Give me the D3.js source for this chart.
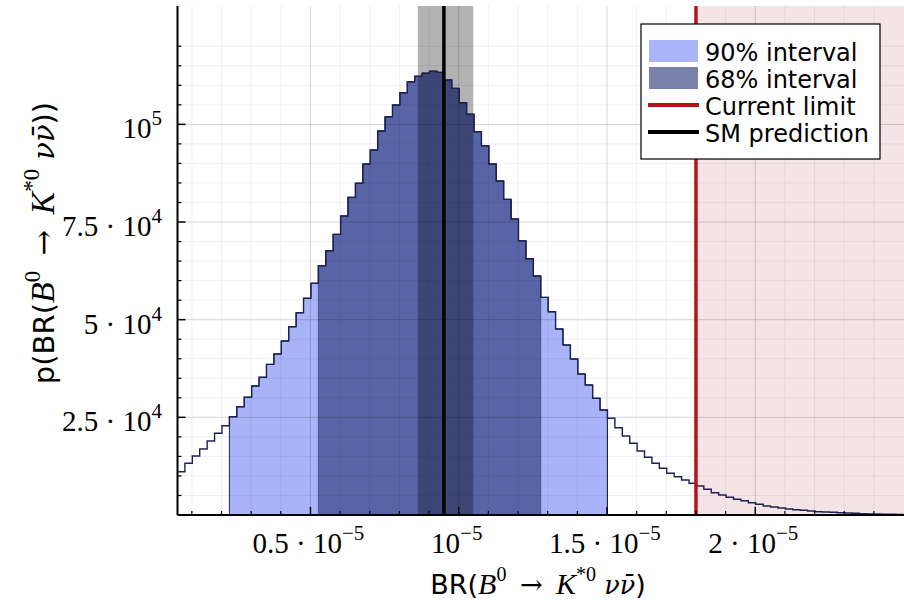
<!DOCTYPE html>
<html>
<head>
<meta charset="utf-8">
<script src="https://cdn.jsdelivr.net/npm/d3@7"></script>
<style>
  body { margin: 0; background: #fff; }
  svg { display: block; }
</style>
</head>
<body>
<div id="chart"></div>
<script>
// histogram of BR(B0 -> K*0 nu nubar), x values in units of 1e-5
const binStart = 0.0516
const binWidth = 0.025
const counts = [
  11080, 13230, 15100, 16890, 18940, 20910, 22860, 25160, 27720, 30130,
  33020, 35250, 38570, 41210, 44540, 48200, 51780, 55470, 59310, 63810,
  67650, 71850, 76540, 81320, 84910, 89850, 93430, 98290, 101950, 104950,
  108100, 110910, 112300, 113100, 113600, 113320, 111350, 109220, 105540, 102570,
  98110, 94530, 89850, 85490, 80810, 75770, 70210, 65600, 61180, 55720,
  52040, 47610, 43520, 39930, 36090, 33280, 29870, 26880, 24750, 22350,
  20220, 18350, 16380, 14770, 13230, 11950, 10670, 9800, 8960, 8110,
  7420, 6580, 5710, 5120, 4530, 4020, 3660, 3150, 2740, 2300,
  2050, 1790, 1540, 1360, 1200, 1020, 850, 770, 690, 590,
  510, 440, 330, 300, 270, 230, 200, 170
]
const ci90 = [0.2266, 1.4995]
const ci68 = [0.5248, 1.2759]
const smCentral = 0.95
const smBand = [0.862, 1.049]
const currentLimit = 1.8

const xTicks = [0.5, 1, 1.5, 2]
const xTickLabels = [['0.5 · 10', '−5'], ['10', '−5'], ['1.5 · 10', '−5'], ['2 · 10', '−5']]
const yTicks = [25000, 50000, 75000, 100000]
const yTickLabels = [['2.5 · 10', '4'], ['5 · 10', '4'], ['7.5 · 10', '4'], ['10', '5']]
const yMax = 130300

const legendItems = ['90% interval', '68% interval', 'Current limit', 'SM prediction']

const W = 904, H = 600
const pL = 177.5, pR = 904, pT = 6, pB = 515

const edges = d3.range(counts.length + 1).map(i => binStart + i * binWidth)

const x = d3.scaleLinear().domain([edges[0], edges[edges.length - 1]]).range([pL, pR])
const y = d3.scaleLinear().domain([0, yMax]).range([pB, pT])

const svg = d3.select('#chart').append('svg')
  .attr('width', W).attr('height', H)

svg.append('rect').attr('width', W).attr('height', H).attr('fill', '#fff')

// excluded region above current limit
svg.append('rect')
  .attr('x', x(currentLimit)).attr('y', pT)
  .attr('width', pR - x(currentLimit)).attr('height', pB - pT)
  .attr('fill', '#f4e4e6')

// step points for a range of bins
function stepPts(lo, hi) {
  let pts = []
  counts.forEach((c, i) => {
    let mid = edges[i] + binWidth / 2
    if (mid >= lo && mid <= hi) pts.push([edges[i], c, edges[i + 1]])
  })
  let out = pts.map(p => [p[0], p[1]])
  let last = pts[pts.length - 1]
  out.push([last[2], last[1]])
  return out
}

const area = d3.area().curve(d3.curveStepAfter)
  .x(d => x(d[0])).y0(y(0)).y1(d => y(d[1]))

svg.append('path').attr('d', area(stepPts(ci90[0], ci90[1])))
  .attr('fill', '#a9b4f8').attr('stroke', '#1c2152').attr('stroke-width', 1)

svg.append('path').attr('d', area(stepPts(ci68[0], ci68[1])))
  .attr('fill', '#232f70').attr('fill-opacity', 0.6)
  .attr('stroke', '#1c2152').attr('stroke-opacity', 0.5).attr('stroke-width', 1)

// grid
const grid = svg.append('g')
const xMinor = d3.range(1, 25).map(d => d / 10).filter(d => !xTicks.includes(d))
const yMinor = d3.range(1, 25).map(d => d * 5000).filter(d => !yTicks.includes(d))

grid.selectAll('.xm').data(xMinor).join('line')
  .attr('x1', d => x(d)).attr('x2', d => x(d)).attr('y1', pT).attr('y2', pB)
  .attr('stroke', '#000').attr('stroke-opacity', 0.06)
grid.selectAll('.ym').data(yMinor).join('line')
  .attr('x1', pL).attr('x2', pR).attr('y1', d => y(d)).attr('y2', d => y(d))
  .attr('stroke', '#000').attr('stroke-opacity', 0.06)
grid.selectAll('.xM').data(xTicks).join('line')
  .attr('x1', d => x(d)).attr('x2', d => x(d)).attr('y1', pT).attr('y2', pB)
  .attr('stroke', '#000').attr('stroke-opacity', 0.16)
grid.selectAll('.yM').data(yTicks).join('line')
  .attr('x1', pL).attr('x2', pR).attr('y1', d => y(d)).attr('y2', d => y(d))
  .attr('stroke', '#000').attr('stroke-opacity', 0.16)

// SM uncertainty band
svg.append('rect')
  .attr('x', x(smBand[0])).attr('y', pT)
  .attr('width', x(smBand[1]) - x(smBand[0])).attr('height', pB - pT)
  .attr('fill', '#000').attr('fill-opacity', 0.3)

// histogram outline
const allPts = counts.map((c, i) => [edges[i], c])
allPts.push([edges[edges.length - 1], counts[counts.length - 1]])
const line = d3.line().curve(d3.curveStepAfter).x(d => x(d[0])).y(d => y(d[1]))
svg.append('path').attr('d', line(allPts))
  .attr('fill', 'none').attr('stroke', '#1c2152').attr('stroke-width', 1.4)

// current limit and SM prediction
svg.append('line')
  .attr('x1', x(currentLimit)).attr('x2', x(currentLimit)).attr('y1', pT).attr('y2', pB)
  .attr('stroke', '#b5121b').attr('stroke-width', 3.5)
svg.append('line')
  .attr('x1', x(smCentral)).attr('x2', x(smCentral)).attr('y1', pT).attr('y2', pB)
  .attr('stroke', '#000').attr('stroke-width', 3.5)

// axes
const axisG = svg.append('g')
axisG.selectAll('.xt').data(xMinor).join('line')
  .attr('x1', d => x(d)).attr('x2', d => x(d)).attr('y1', pB).attr('y2', pB - 4)
  .attr('stroke', '#000').attr('stroke-width', 1.2)
axisG.selectAll('.xT').data(xTicks).join('line')
  .attr('x1', d => x(d)).attr('x2', d => x(d)).attr('y1', pB).attr('y2', pB - 8)
  .attr('stroke', '#000').attr('stroke-width', 1.5)
axisG.selectAll('.yt').data(yMinor).join('line')
  .attr('x1', pL).attr('x2', pL + 4).attr('y1', d => y(d)).attr('y2', d => y(d))
  .attr('stroke', '#000').attr('stroke-width', 1.2)
axisG.selectAll('.yT').data(yTicks).join('line')
  .attr('x1', pL).attr('x2', pL + 8).attr('y1', d => y(d)).attr('y2', d => y(d))
  .attr('stroke', '#000').attr('stroke-width', 1.5)
axisG.append('line').attr('x1', pL).attr('x2', pR).attr('y1', pB).attr('y2', pB)
  .attr('stroke', '#000').attr('stroke-width', 2)
axisG.append('line').attr('x1', pL).attr('x2', pL).attr('y1', pT).attr('y2', pB)
  .attr('stroke', '#000').attr('stroke-width', 2)

const serif = '"Liberation Serif", "DejaVu Serif", serif'
const dvSerif = '"DejaVu Serif", serif'
const sans = '"DejaVu Sans", sans-serif'

function powLabel(sel, parts) {
  sel.append('tspan').text(parts[0])
  sel.append('tspan').attr('dy', -13).attr('font-size', 21).text(parts[1])
}

xTicks.forEach((t, i) => {
  let tx = svg.append('text').attr('x', x(t) - 2).attr('y', 553)
    .attr('text-anchor', 'middle').attr('font-family', serif).attr('font-size', 29)
  powLabel(tx, xTickLabels[i])
})
yTicks.forEach((t, i) => {
  let tx = svg.append('text').attr('x', 162).attr('y', y(t) + 14)
    .attr('text-anchor', 'end').attr('font-family', serif).attr('font-size', 29)
  powLabel(tx, yTickLabels[i])
})

// axis titles with math parts (fs = math size, ss = sans size)
function brTitle(sel, fs, ss) {
  let sup = Math.round(fs * 0.68)
  sel.append('tspan').attr('font-family', sans).attr('font-size', ss).text('BR(')
  sel.append('tspan').attr('font-style', 'italic').text('B')
  sel.append('tspan').attr('dy', -fs * 0.42).attr('font-size', sup).text('0')
  sel.append('tspan').attr('dy', fs * 0.42).attr('font-family', dvSerif).attr('font-size', fs * 0.9).text('\u2002→\u2002')
  sel.append('tspan').attr('font-style', 'italic').text('K')
  sel.append('tspan').attr('dy', -fs * 0.45).attr('font-size', sup).text('*0')
  sel.append('tspan').attr('dy', fs * 0.45).attr('font-style', 'italic')
    .attr('font-family', dvSerif).attr('font-size', fs * 0.85).text(' νν\u0304')
  sel.append('tspan').attr('font-family', sans).attr('font-size', ss).text(')')
}

let xt = svg.append('text').attr('x', 538).attr('y', 594)
  .attr('text-anchor', 'middle').attr('font-family', serif).attr('font-size', 30)
brTitle(xt, 30, 27)

let yt = svg.append('text').attr('transform', 'translate(54,243) rotate(-90)')
  .attr('text-anchor', 'middle').attr('font-family', serif).attr('font-size', 34)
yt.append('tspan').attr('font-family', sans).attr('font-size', 29).text('p(')
brTitle(yt, 34, 29)
yt.append('tspan').attr('font-family', sans).attr('font-size', 29).text(')')

// legend
const lg = svg.append('g')
lg.append('rect').attr('x', 641).attr('y', 24).attr('width', 239).attr('height', 135)
  .attr('fill', '#fff').attr('stroke', '#000').attr('stroke-width', 1.2)
lg.append('rect').attr('x', 649).attr('y', 40).attr('width', 49).attr('height', 22).attr('fill', '#aab4f9')
lg.append('rect').attr('x', 649).attr('y', 67).attr('width', 49).attr('height', 22).attr('fill', '#7b82a9')
lg.append('line').attr('x1', 648).attr('x2', 699).attr('y1', 105).attr('y2', 105)
  .attr('stroke', '#b5121b').attr('stroke-width', 4)
lg.append('line').attr('x1', 648).attr('x2', 699).attr('y1', 132).attr('y2', 132)
  .attr('stroke', '#000').attr('stroke-width', 4)
lg.selectAll('.lt').data(legendItems).join('text')
  .attr('x', 705).attr('y', (d, i) => 61 + i * 27)
  .attr('font-family', sans).attr('font-size', 24).attr('fill', '#000')
  .text(d => d)
</script>
</body>
</html>
